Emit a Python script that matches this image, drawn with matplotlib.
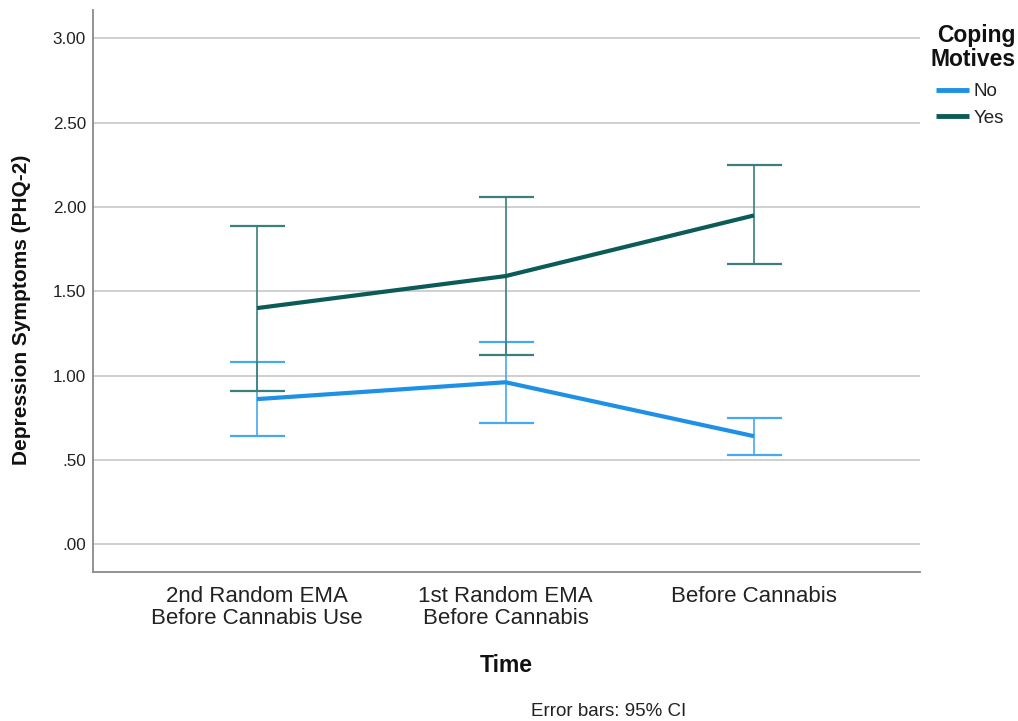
import matplotlib
matplotlib.use("Agg")
import matplotlib.pyplot as plt
from matplotlib.ticker import FuncFormatter
import numpy as np

plt.rcParams['font.family'] = ['Liberation Sans', 'DejaVu Sans']

categories = ["2nd Random EMA\nBefore Cannabis Use", "1st Random EMA\nBefore Cannabis", "Before Cannabis"]
groups = ["No", "Yes"]

mean_no = [0.86, 0.96, 0.64]
ci_low_no = [0.64, 0.72, 0.53]
ci_high_no = [1.08, 1.20, 0.75]

mean_yes = [1.40, 1.59, 1.95]
ci_low_yes = [0.91, 1.12, 1.66]
ci_high_yes = [1.89, 2.06, 2.25]

yticks = [0.0, 0.5, 1.0, 1.5, 2.0, 2.5, 3.0]

line_colors = {"No": "#1e90e6", "Yes": "#0b5b58"}
bar_colors = {"No": "#45a8f0", "Yes": "#3a7f7c"}

fig = plt.figure(figsize=(10.18, 7.21), dpi=100)
ax = fig.add_axes([93 / 1018, 1 - 572 / 721, (920 - 93) / 1018, (572 - 10) / 721])

x = np.arange(len(categories))
series = {
    "No": (mean_no, ci_low_no, ci_high_no),
    "Yes": (mean_yes, ci_low_yes, ci_high_yes),
}

for name in groups:
    m, lo, hi = (np.array(v) for v in series[name])
    ax.errorbar(x, m, yerr=[m - lo, hi - m], fmt='none', ecolor=bar_colors[name],
                elinewidth=1.2, capsize=19.8, capthick=1.6, zorder=3)
for name in groups:
    m = series[name][0]
    ax.plot(x, m, color=line_colors[name], lw=3.0, label=name, zorder=4,
            solid_capstyle='butt')

ax.set_xlim(-0.66, 2.668)
ax.set_ylim(-0.166, 3.169)
ax.set_yticks(yticks)
ax.yaxis.set_major_formatter(FuncFormatter(lambda v, p: f"{v:.2f}".lstrip("0") if v < 1 else f"{v:.2f}"))
ax.set_xticks(x)
ax.set_xticklabels(categories, fontsize=16, color="#222222", linespacing=1.05)
ax.tick_params(axis='both', length=0)
ax.tick_params(axis='y', labelsize=12.3, pad=5, labelcolor="#222222")
ax.tick_params(axis='x', pad=10)

ax.grid(axis='y', color="#cfcfcf", lw=1.4, zorder=0)
ax.set_axisbelow(True)
for side in ('top', 'right'):
    ax.spines[side].set_visible(False)
for side in ('left', 'bottom'):
    ax.spines[side].set_color("#8a8a8a")
    ax.spines[side].set_linewidth(1.3)

fig.text(22 / 1018, 1 - 310 / 721, "Depression Symptoms (PHQ-2)", rotation=90,
         ha='center', va='center', fontsize=15, fontweight='bold', color="#111111")
fig.text(506 / 1018, 1 - 666 / 721, "Time", ha='center', va='center',
         fontsize=16.5, fontweight='bold', color="#111111")
fig.text(609 / 1018, 1 - 712 / 721, "Error bars: 95% CI", ha='center', va='center',
         fontsize=13.5, color="#222222")

# Legend heading drawn separately so the gap to the entries can be set freely
fig.text(1016 / 1018, 1 - 47.5 / 721, "Coping\nMotives", ha='right', va='center',
         multialignment='right', fontsize=16.5, fontweight='bold',
         color="#111111", linespacing=1.05)
leg = ax.legend(loc='upper left', bbox_to_anchor=(936 / 1018, 1 - 83 / 721),
                bbox_transform=fig.transFigure, frameon=False, fontsize=13.5,
                handlelength=1.75, handletextpad=0.25, labelspacing=0.5,
                borderaxespad=0, borderpad=0)
for t in leg.get_texts():
    t.set_color("#222222")
for h in leg.get_lines():
    h.set_linewidth(3.5)

fig.savefig("out.png", dpi=100)
